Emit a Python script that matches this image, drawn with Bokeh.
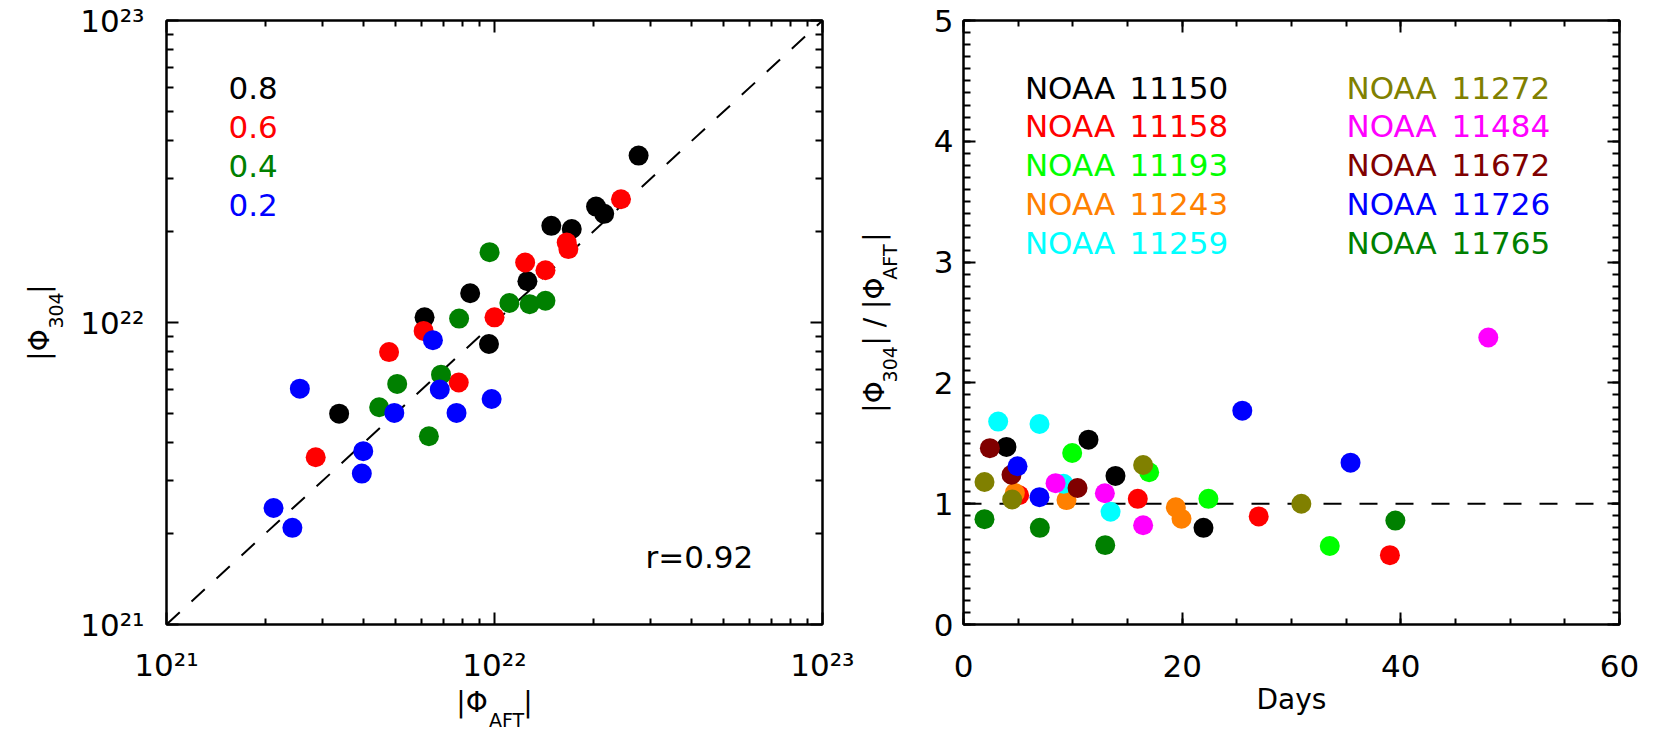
import math
from bokeh.plotting import figure
from bokeh.layouts import row
from bokeh.models import (Range1d, FixedTicker, SingleIntervalTicker, CustomJSTickFormatter,
                          LogAxis, LinearAxis, Label)
from bokeh.embed import file_html
from bokeh.resources import INLINE

FONT = "DejaVu Sans"
NB = "\u00a0"

# ---------------- left panel data: |phi_AFT| vs |phi_304| ----------------
levels = ["0.8", "0.6", "0.4", "0.2"]
level_colors = ["#000000", "#ff0000", "#008000", "#0000ff"]

aft_08 = [2.75e22, 2.04e22, 2.16e22, 1.49e22, 1.72e22, 1.26e22, 8.43e21, 6.12e21, 9.62e21, 3.36e21]
p304_08 = [3.57e22, 2.42e22, 2.29e22, 2.09e22, 2.04e22, 1.37e22, 1.25e22, 1.04e22, 8.49e21, 4.99e21]

aft_06 = [2.43e22, 1.66e22, 1.68e22, 1.24e22, 1.43e22, 1.00e22, 6.08e21, 4.77e21, 7.78e21, 2.85e21]
p304_06 = [2.56e22, 1.84e22, 1.75e22, 1.58e22, 1.49e22, 1.04e22, 9.38e21, 7.98e21, 6.33e21, 3.58e21]

aft_04 = [9.66e21, 1.11e22, 1.28e22, 1.43e22, 7.80e21, 6.87e21, 5.05e21, 4.45e21, 6.31e21]
p304_04 = [1.71e22, 1.16e22, 1.15e22, 1.18e22, 1.03e22, 6.72e21, 6.26e21, 5.24e21, 4.20e21]

aft_02 = [6.49e21, 6.81e21, 9.80e21, 7.66e21, 4.95e21, 2.55e21, 3.98e21, 3.94e21, 2.12e21, 2.42e21]
p304_02 = [8.74e21, 6.00e21, 5.58e21, 5.02e21, 5.02e21, 6.04e21, 3.75e21, 3.16e21, 2.43e21, 2.09e21]

left_x = [aft_08, aft_06, aft_04, aft_02]
left_y = [p304_08, p304_06, p304_04, p304_02]
corr_text = "r=0.92"

log_exponents = [21, 22, 23]
log_tick_labels = ["10\u00b2\u00b9", "10\u00b2\u00b2", "10\u00b2\u00b3"]

# ---------------- right panel data: ratio vs days ----------------
regions = ["11150", "11158", "11193", "11243", "11259",
           "11272", "11484", "11672", "11726", "11765"]
region_colors = ["#000000", "#ff0000", "#00ff00", "#ff8000", "#00ffff",
                 "#808000", "#ff00ff", "#800000", "#0000ff", "#008000"]

days_11150 = [3.93, 11.43, 13.9, 21.95]
ratio_11150 = [1.47, 1.53, 1.23, 0.80]
days_11158 = [5.09, 15.94, 27.0, 39.0]
ratio_11158 = [1.07, 1.04, 0.895, 0.574]
days_11193 = [9.94, 16.98, 22.4, 33.5]
ratio_11193 = [1.42, 1.26, 1.04, 0.65]
days_11243 = [4.7, 9.42, 19.42, 19.94]
ratio_11243 = [1.09, 1.03, 0.97, 0.875]
days_11259 = [3.17, 6.95, 9.15, 13.45]
ratio_11259 = [1.68, 1.66, 1.165, 0.933]
days_11272 = [1.92, 4.45, 16.43, 30.9]
ratio_11272 = [1.18, 1.035, 1.32, 1.0]
days_11484 = [8.42, 12.93, 16.43, 48.0]
ratio_11484 = [1.17, 1.087, 0.822, 2.376]
days_11672 = [2.41, 4.39, 10.43]
ratio_11672 = [1.46, 1.24, 1.13]
days_11726 = [4.94, 6.95, 25.5, 35.4]
ratio_11726 = [1.31, 1.054, 1.77, 1.34]
days_11765 = [1.92, 6.98, 12.96, 39.5]
ratio_11765 = [0.872, 0.80, 0.657, 0.86]

right_x = [days_11150, days_11158, days_11193, days_11243, days_11259,
           days_11272, days_11484, days_11672, days_11726, days_11765]
right_y = [ratio_11150, ratio_11158, ratio_11193, ratio_11243, ratio_11259,
           ratio_11272, ratio_11484, ratio_11672, ratio_11726, ratio_11765]
ref_ratio = 1.0

# axis titles: main text (with gaps) and lowered subscripts
left_x_main = "|\u03a6" + NB * 4 + "|"
left_x_sub = NB * 4 + "AFT"
left_y_main = "|\u03a6" + NB * 4 + "|"
left_y_sub = NB * 4 + "304"
right_x_title = "Days"
right_y_main = "|\u03a6" + NB * 4 + "|" + NB + "/" + NB + "|\u03a6" + NB * 4 + "|"
right_y_sub = NB * 3 + "304" + NB * 11 + "AFT"

# ---------------- helpers ----------------
def style_axis(ax, ticker, formatter, major_len, minor_len, standoff, show_labels=True):
    ax.ticker = ticker
    ax.formatter = formatter
    ax.axis_line_width = 2
    ax.axis_line_color = "black"
    ax.major_tick_in = major_len
    ax.major_tick_out = 0
    ax.minor_tick_in = minor_len
    ax.minor_tick_out = 0
    ax.major_tick_line_width = 2
    ax.minor_tick_line_width = 2
    ax.major_tick_line_color = "black"
    ax.minor_tick_line_color = "black"
    ax.major_label_text_font = FONT
    ax.major_label_text_font_size = "31px" if show_labels else "1px"
    ax.major_label_text_color = "black" if show_labels else None
    ax.major_label_standoff = standoff


def title_style(ax, text, size, standoff):
    ax.axis_label = text
    ax.axis_label_text_font = FONT
    ax.axis_label_text_font_size = f"{size}px"
    ax.axis_label_text_font_style = "normal"
    ax.axis_label_text_color = "black"
    ax.axis_label_standoff = standoff


def text_axis(cls, text, size, standoff):
    ax = cls(ticker=FixedTicker(ticks=[]))
    ax.axis_line_color = None
    ax.major_tick_line_color = None
    ax.minor_tick_line_color = None
    ax.major_tick_in = 0
    ax.major_tick_out = 0
    ax.minor_tick_in = 0
    ax.minor_tick_out = 0
    ax.major_label_text_color = None
    ax.major_label_standoff = 0
    title_style(ax, text, size, standoff)
    return ax


def blank():
    return CustomJSTickFormatter(code="return '';")


def put(p, frame, px, py, text, size, color="black", align="left"):
    fl, fb = frame
    p.add_layout(Label(x=px - fl, y=fb - py, x_units="screen", y_units="screen",
                       text=text, text_font=FONT, text_font_size=f"{size}px",
                       text_color=color, text_align=align, text_baseline="middle"))


def base_fig(**kw):
    p = figure(frame_width=656, frame_height=604, min_border_top=20, min_border_bottom=110,
               output_backend="svg", toolbar_location=None, **kw)
    p.xgrid.visible = False
    p.ygrid.visible = False
    p.outline_line_color = "black"
    p.outline_line_width = 2
    p.background_fill_color = "white"
    p.border_fill_color = "white"
    return p

# ---------------- left figure ----------------
lo, hi = 10.0 ** log_exponents[0], 10.0 ** log_exponents[-1]
p1 = base_fig(x_axis_type="log", y_axis_type="log",
              x_range=Range1d(lo, hi), y_range=Range1d(lo, hi),
              min_border_left=166, min_border_right=32)

major_log = [10.0 ** e for e in log_exponents]
minor_log = [m * 10.0 ** e for e in log_exponents[:-1] for m in range(2, 10)]
log_fmt = CustomJSTickFormatter(args=dict(exps=log_exponents, labs=log_tick_labels), code="""
const e = Math.round(Math.log10(tick));
const i = exps.indexOf(e);
return i >= 0 ? labs[i] : '';
""")

def log_ticker():
    return FixedTicker(ticks=major_log, minor_ticks=minor_log)

style_axis(p1.xaxis[0], log_ticker(), log_fmt, 12, 6, 22)
title_style(p1.xaxis[0], left_x_main, 28, 0)
p1.add_layout(text_axis(LogAxis, left_x_sub, 19, -13), "below")

style_axis(p1.yaxis[0], log_ticker(), log_fmt, 12, 7, 22)
title_style(p1.yaxis[0], left_y_sub, 19, 10)
p1.add_layout(text_axis(LogAxis, left_y_main, 28, -13), "left")

top1 = LogAxis()
style_axis(top1, log_ticker(), blank(), 12, 6, 0, show_labels=False)
p1.add_layout(top1, "above")
right1 = LogAxis()
style_axis(right1, log_ticker(), blank(), 12, 7, 0, show_labels=False)
p1.add_layout(right1, "right")

p1.line([lo, hi], [lo, hi], line_color="black", line_width=2, line_dash="18 16")
for xs, ys, c in zip(left_x, left_y, level_colors):
    p1.scatter(xs, ys, size=20, fill_color=c, line_color=None)

F1 = (166, 624)
for i, (t, c) in enumerate(zip(levels, level_colors)):
    put(p1, F1, 228, 87.3 + 38.9 * i, t, 31, c)
put(p1, F1, 645, 556, corr_text, 31)

# ---------------- right figure ----------------
xr0, xr1 = 0, 60
yr0, yr1 = 0, 5
p2 = base_fig(x_range=Range1d(xr0, xr1), y_range=Range1d(yr0, yr1),
              min_border_left=102, min_border_right=40)

style_axis(p2.xaxis[0], SingleIntervalTicker(interval=20, num_minor_ticks=4), p2.xaxis[0].formatter, 12, 6, 30)
title_style(p2.xaxis[0], right_x_title, 28, 3)

style_axis(p2.yaxis[0], SingleIntervalTicker(interval=1, num_minor_ticks=10), p2.yaxis[0].formatter, 12, 7, 10)
title_style(p2.yaxis[0], right_y_sub, 19, 30)
p2.add_layout(text_axis(LinearAxis, right_y_main, 28, -15), "left")

top2 = LinearAxis()
style_axis(top2, SingleIntervalTicker(interval=20, num_minor_ticks=4), blank(), 12, 6, 0, show_labels=False)
p2.add_layout(top2, "above")
right2 = LinearAxis()
style_axis(right2, SingleIntervalTicker(interval=1, num_minor_ticks=10), blank(), 12, 7, 0, show_labels=False)
p2.add_layout(right2, "right")

p2.line([xr0, xr1], [ref_ratio, ref_ratio], line_color="black", line_width=2, line_dash="18 18")
for xs, ys, c in zip(right_x, right_y, region_colors):
    p2.scatter(xs, ys, size=20, fill_color=c, line_color=None)

F2 = (956, 624)
col_noaa = [1017.4, 1339]
col_num = [1122, 1444]
for i, (r, c) in enumerate(zip(regions, region_colors)):
    col, rw = divmod(i, 5)
    yy = 87 + 38.85 * rw
    put(p2, F2, col_noaa[col], yy, "NOAA", 31, c)
    put(p2, F2, col_num[col], yy, r, 31, c)

layout = row(p1, p2)
open("out.html", "w", encoding="utf-8").write(file_html(layout, INLINE))
